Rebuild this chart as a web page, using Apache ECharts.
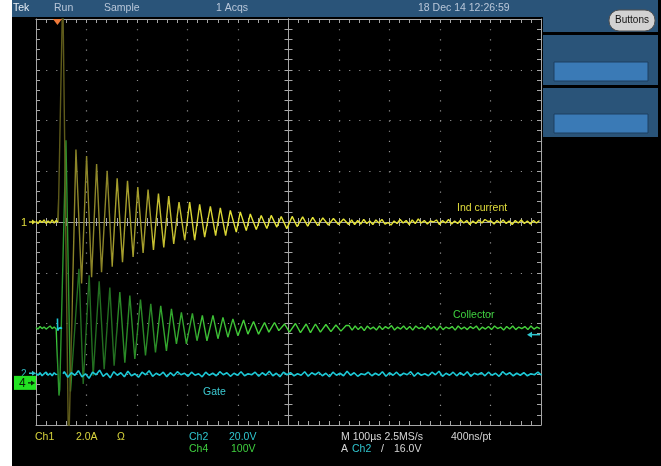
<!DOCTYPE html>
<html><head><meta charset="utf-8">
<script src="https://cdn.jsdelivr.net/npm/echarts@6/dist/echarts.min.js"></script>
<style>
html,body{margin:0;padding:0;background:#ffffff;overflow:hidden;}
#scr{position:absolute;left:12px;top:0;width:649px;height:466px;background:#000;}
#c{position:absolute;left:0;top:0;width:661px;height:466px;}
</style></head><body>
<div id="scr"></div>
<div id="c"></div>
<script>
// ---------- axis ranges (screen divisions) ----------
const xRange = [0, 10];       // 10 horizontal divisions (100 us/div)
const yRange = [-4, 4];       // 8 vertical divisions
const divStep = 1;

// ---------- Ch1 "Ind current" (yellow), [time div, level div] ----------
const ch1Trace = [
[0.00,0.02],[0.04,-0.03],[0.08,0.03],[0.12,-0.01],[0.16,0.04],[0.20,-0.03],[0.24,0.02],[0.28,-0.02],[0.32,0.04],[0.36,-0.02],[0.40,0.03],[0.44,-0.01],
[0.53,4.6],[0.645,-4.6],
[0.791,1.43],[0.903,-1.21],[1.002,1.30],[1.101,-1.09],[1.200,1.14],[1.298,-0.99],[1.409,1.01],[1.508,-0.88],[1.607,0.86],[1.713,-0.79],
[1.812,0.81],[1.923,-0.69],[2.016,0.69],[2.121,-0.61],[2.219,0.64],[2.326,-0.55],[2.425,0.56],[2.530,-0.50],[2.628,0.51],[2.727,-0.43],
[2.832,0.39],[2.945,-0.36],[3.043,0.39],[3.142,-0.36],[3.241,0.35],[3.340,-0.30],[3.453,0.31],[3.557,-0.27],[3.650,0.28],[3.755,-0.27],
[3.848,0.23],[3.966,-0.20],[4.045,0.20],[4.164,-0.17],[4.243,0.16],[4.362,-0.15],[4.460,0.13],[4.571,-0.13],[4.658,0.13],[4.769,-0.10],
[4.856,0.11],[4.966,-0.13],[5.073,0.11],[5.17,-0.09],[5.28,0.10],[5.38,-0.08],[5.48,0.09],[5.58,-0.07],[5.68,0.08],[5.79,-0.06],
[5.89,0.07],[5.99,-0.05],[6.09,0.06],[6.19,-0.05]
];
const ch1TailStart = 6.25;
const ch1Tail = [
0.04,-0.05,0.03,-0.04,0.05,-0.03,0.02,-0.05,0.04,-0.02,
0.05,-0.04,-0.01,-0.06,0.02,-0.03,0.05,-0.02,0.03,-0.05,
0.04,-0.03,0.06,-0.02,0.03,-0.04,0.02,0.00,0.04,-0.05,
0.03,-0.02,0.05,-0.04,0.02,-0.03,0.04,-0.02,0.03,-0.05,
0.02,-0.03,0.04,-0.02,0.05,0.01,0.02,-0.04,0.03,-0.02,
0.04,-0.03,0.02,-0.05,0.03,-0.02,0.04,-0.03,0.02,-0.04,
0.03,-0.02,0.03
];

// ---------- Ch4 "Collector" (green) ----------
const ch4Trace = [
[0.00,-2.08],[0.04,-2.11],[0.08,-2.06],[0.12,-2.10],[0.16,-2.07],[0.20,-2.11],[0.24,-2.08],[0.28,-2.05],[0.32,-2.10],[0.36,-2.07],[0.40,-2.11],[0.42,-2.09],
[0.455,-3.42],[0.47,-3.30],[0.593,1.61],[0.682,-3.34],
[0.850,-0.92],[0.935,-3.19],[1.053,-1.05],[1.132,-3.03],[1.251,-1.17],[1.350,-2.90],[1.462,-1.29],[1.547,-2.83],[1.660,-1.38],[1.759,-2.77],
[1.858,-1.45],[1.957,-2.70],[2.069,-1.53],[2.168,-2.63],[2.273,-1.61],[2.366,-2.57],[2.470,-1.65],[2.583,-2.54],[2.682,-1.71],[2.781,-2.40],
[2.879,-1.78],[2.978,-2.40],[3.097,-1.80],[3.188,-2.34],[3.294,-1.84],[3.385,-2.34],[3.504,-1.84],[3.603,-2.30],[3.702,-1.88],[3.800,-2.27],
[3.899,-1.91],[3.998,-2.24],[4.111,-1.93],[4.196,-2.21],[4.308,-1.96],[4.407,-2.21],[4.526,-1.98],[4.611,-2.17],[4.723,-1.98],[4.808,-2.14],
[4.921,-2.01],[5.020,-2.17],[5.138,-2.00],[5.237,-2.18],[5.350,-2.01],[5.435,-2.18],[5.534,-2.01],[5.632,-2.17],[5.741,-2.02],[5.840,-2.16],
[5.939,-2.03],[6.038,-2.15],[6.14,-2.04]
];
const ch4TailStart = 6.2;
const ch4Tail = [
-2.04,-2.13,-2.05,-2.12,-2.06,-2.14,-2.05,-2.11,-2.07,-2.13,
-2.05,-2.12,-2.06,-2.10,-2.04,-2.13,-2.07,-2.11,-2.05,-2.12,
-2.06,-2.13,-2.05,-2.10,-2.07,-2.12,-2.04,-2.11,-2.06,-2.13,
-2.05,-2.12,-2.07,-2.10,-2.06,-2.13,-2.05,-2.11,-2.07,-2.12,
-2.06,-2.10,-2.05,-2.13,-2.07,-2.11,-2.06,-2.12,-2.05,-2.10,
-2.07,-2.13,-2.06,-2.11,-2.05,-2.12,-2.07,-2.10,-2.06,-2.12,
-2.05,-2.11,-2.07,-2.10
];

// ---------- Ch2 "Gate" (cyan); '-' = trace edge too fast to show ----------
const ch2Trace = [
[0.00,-2.98],[0.04,-3.02],[0.08,-2.97],[0.12,-3.03],[0.16,-2.99],[0.20,-2.96],[0.24,-3.02],[0.28,-2.98],[0.32,-3.03],[0.36,-2.97],[0.40,-3.01],[0.41,-2.99],
[0.415,'-'],
[0.425,-1.90],[0.429,-2.14],[0.45,-2.10],[0.49,-2.08],[0.515,-2.10],
[0.52,'-'],
[0.535,-2.99]
];
const ch2TailStart = 0.56;
const ch2Tail = [
-2.95,-3.06,-2.97,-3.02,-2.93,-3.05,-2.99,-3.08,-2.96,-3.01,
-2.92,-3.04,-2.98,-3.07,-2.95,-3.02,-2.97,-3.05,-2.94,-3.03,
-2.99,-3.06,-2.96,-3.01,-2.93,-3.04,-2.98,-3.02,-2.96,-3.05,
-2.97,-3.03,-2.95,-3.01,-2.98,-3.04,-2.96,-3.02,-2.99,-3.05,
-2.96,-3.02,-2.98,-3.03,-2.95,-3.01,-2.97,-3.04,-2.98,-3.02,
-2.95,-3.03,-2.99,-3.01,-2.96,-3.04,-2.97,-3.02,-2.94,-3.03,
-2.98,-3.05,-2.96,-3.01,-2.97,-3.03,-2.99,-3.02,-2.95,-3.04,
-2.97,-3.01,-2.96,-3.03,-2.98,-3.05,-2.96,-3.02,-2.98,-3.03,
-2.94,-3.02,-2.97,-3.04,-2.99,-3.01,-2.96,-3.03,-2.98,-3.02,
-2.95,-3.04,-2.97,-3.02,-2.96,-3.03,-2.98,-3.01,-2.95,-3.04,
-2.97,-3.02,-2.99,-3.03,-2.96,-3.01,-2.94,-3.04,-2.98,-3.02,
-2.96,-3.03,-2.97,-3.02,-2.95,-3.04,-2.98,-3.01,-2.97,-3.03,
-2.96,-3.02,-2.98,-3.04,-2.95,-3.01,-2.97,-3.03,-2.98,-3.02,
-2.97,-3.03,-2.99,-3.01,-2.96,-3.02
];
const sampleStep = [0.06, 0.06, 0.07]; // ch1, ch4, ch2 tail sample spacing (div)

// ---------- reference markers (divisions) ----------
const triggerTime = 0.425;
const ch1Ground = 0, ch2Ground = -2.98, ch4Ground = -3.17, trigLevel = -2.22;

// ---------- texts ----------
const topTexts = [["Tek",13,"#e6edf5"],["Run",54,"#b9c7d9"],["Sample",104,"#b9c7d9"],["1 Acqs",216,"#b9c7d9"],["18 Dec 14 12:26:59",418,"#b9c7d9"]];
const bottomTexts = [
  ["Ch1",35,0,"#d8d43c"],["2.0A",76,0,"#d8d43c"],["\u03A9",117,0,"#d8d43c"],
  ["Ch2",189,0,"#2fc6cf"],["20.0V",229,0,"#2fc6cf"],
  ["Ch4",189,1,"#3fd03f"],["100V",231,1,"#3fd03f"],
  ["M 100\u00B5s 2.5MS/s",341,0,"#d6d6d6"],["400ns/pt",451,0,"#d6d6d6"],
  ["A",341,1,"#d6d6d6"],["Ch2",352,1,"#2fc6cf"],["/",381,1,"#d6d6d6"],["16.0V",394,1,"#d6d6d6"]
];
const traceLabels = [["Ind current",457,208,"#e2de3c"],["Collector",453,315,"#3fd03f"],["Gate",203,392,"#3ccad2"]];

function withTail(trace, start, step, vals){
  return trace.concat(vals.map((v,i)=>[+(start + i*step).toFixed(3), v]));
}
const ch1Data = withTail(ch1Trace, ch1TailStart, sampleStep[0], ch1Tail);
const ch4Data = withTail(ch4Trace, ch4TailStart, sampleStep[1], ch4Tail);
const ch2Data = withTail(ch2Trace, ch2TailStart, sampleStep[2], ch2Tail);

const gray = '#a6a6a6', dotGray = '#8e8e8e';
function mkAxis(range, pos, o){
  return {
    type:'value', min:range[0], max:range[1], interval:divStep, position:pos, offset:o.offset||0,
    axisLabel:{show:false}, silent:true,
    axisLine:{show:true, onZero:false, lineStyle:{color:gray, width:1}},
    axisTick:{show:true, inside:o.inside, length:o.len, lineStyle:{color:gray, width:1}},
    minorTick:{show:true, splitNumber:5, length:o.len, lineStyle:{color:gray, width:1}},
    splitLine: o.dash ? {show:true, lineStyle:{color:dotGray, width:1.2, type:o.dash}} : {show:false}
  };
}

const chart = echarts.init(document.getElementById('c'), null, {renderer:'canvas', width:661, height:466});
const F = "'Liberation Sans', Arial, sans-serif";

chart.setOption({
  animation:false,
  backgroundColor:'transparent',
  grid:{left:36, top:19, width:505, height:406, show:false},
  xAxis:[
    mkAxis(xRange,'bottom',{inside:true,len:4,dash:[1.2,8.95]}),
    mkAxis(xRange,'top',{inside:true,len:4}),
    mkAxis(xRange,'bottom',{inside:true,len:4,offset:-203}),
    mkAxis(xRange,'bottom',{inside:false,len:4,offset:-203})
  ],
  yAxis:[
    mkAxis(yRange,'left',{inside:true,len:4,dash:[1.2,8.9]}),
    mkAxis(yRange,'right',{inside:true,len:4}),
    mkAxis(yRange,'left',{inside:true,len:4,offset:-252.5}),
    mkAxis(yRange,'left',{inside:false,len:4,offset:-252.5})
  ],
  visualMap:[
    {type:'piecewise', show:false, seriesIndex:1, dimension:0, pieces:[
      {lt:0.44, color:'#e4e232'},{gte:0.44,lt:0.72,color:'#5e5a1a'},{gte:0.72,lt:1.5,color:'#8c8528'},
      {gte:1.5,lt:2.3,color:'#a59e2c'},{gte:2.3,lt:3.0,color:'#c4be30'},{gte:3.0,lt:3.8,color:'#d8d434'},{gte:3.8,color:'#e6e436'}]},
    {type:'piecewise', show:false, seriesIndex:0, dimension:0, pieces:[
      {lt:0.42, color:'#3cc83c'},{gte:0.42,lt:0.72,color:'#2c962c'},{gte:0.72,lt:1.6,color:'#226e20'},
      {gte:1.6,lt:2.4,color:'#2a8a27'},{gte:2.4,lt:3.2,color:'#33a72e'},{gte:3.2,lt:4.0,color:'#3cbe35'},{gte:4.0,color:'#44d03a'}]}
  ],
  series:[
    {type:'line', name:'Collector', data:ch4Data, symbol:'none', showSymbol:false, lineStyle:{width:1.4}, z:3, silent:true},
    {type:'line', name:'Ind current', data:ch1Data, symbol:'none', showSymbol:false, lineStyle:{width:1.4}, z:4, silent:true},
    {type:'line', name:'Gate', data:ch2Data, symbol:'none', showSymbol:false, connectNulls:false, lineStyle:{width:1.6, color:'#1cc8d6'}, itemStyle:{color:'#1cc8d6'}, z:5, silent:true}
  ]
});

function px(x, y){ return chart.convertToPixel({xAxisIndex:0, yAxisIndex:0}, [x, y]); }
const g = [];
const blue = '#2a5479';
g.push({type:'rect', shape:{x:12,y:0,width:646,height:17}, style:{fill:blue}, z:-5});
g.push({type:'rect', shape:{x:543,y:0,width:115,height:32}, style:{fill:blue}, z:-5});
g.push({type:'rect', shape:{x:543,y:35,width:115,height:50}, style:{fill:blue}, z:-5});
g.push({type:'rect', shape:{x:543,y:88,width:115,height:49}, style:{fill:blue}, z:-5});
g.push({type:'rect', shape:{x:554,y:62,width:94,height:19}, style:{fill:'#3a7ab6', stroke:'#1d3f60', lineWidth:1}, z:-4});
g.push({type:'rect', shape:{x:554,y:114,width:94,height:19}, style:{fill:'#3a7ab6', stroke:'#1d3f60', lineWidth:1}, z:-4});
g.push({type:'rect', shape:{x:609,y:10,width:46,height:21,r:10}, style:{fill:'#d2d2d2', stroke:'#505050', lineWidth:1}, z:-3});
g.push({type:'text', x:632, y:20.5, style:{text:'Buttons', fill:'#111', font:'10px '+F, textAlign:'center', textVerticalAlign:'middle', align:'center', verticalAlign:'middle'}, z:5});
topTexts.forEach(t=>g.push({type:'text', x:t[1], y:8.5, style:{text:t[0], fill:t[2], font:'10.5px '+F, textAlign:'left', textVerticalAlign:'middle', align:'left', verticalAlign:'middle'}, z:5}));
bottomTexts.forEach(t=>g.push({type:'text', x:t[1], y:t[2]?449:437.5, style:{text:t[0], fill:t[3], font:'10.5px '+F, textAlign:'left', textVerticalAlign:'middle', align:'left', verticalAlign:'middle'}, z:5}));
traceLabels.forEach(t=>g.push({type:'text', x:t[1], y:t[2], style:{text:t[0], fill:t[3], font:'10.5px '+F, textAlign:'left', textVerticalAlign:'middle', align:'left', verticalAlign:'middle'}, z:6}));

// trigger time marker
const tp = px(triggerTime, yRange[1]);
g.push({type:'polygon', shape:{points:[[tp[0]-4.5,tp[1]],[tp[0]+4.5,tp[1]],[tp[0],tp[1]+6]]}, style:{fill:'#f07a3a'}, z:8});
// ch1 ground marker
const p1 = px(xRange[0], ch1Ground);
g.push({type:'text', x:21, y:p1[1]+0.5, style:{text:'1', fill:'#e2de3c', font:'11px '+F, textAlign:'left', textVerticalAlign:'middle', align:'left', verticalAlign:'middle'}, z:6});
g.push({type:'line', shape:{x1:29,y1:p1[1],x2:33,y2:p1[1]}, style:{stroke:'#e2de3c', lineWidth:1.5}, z:6});
g.push({type:'polygon', shape:{points:[[32,p1[1]-2.5],[36,p1[1]],[32,p1[1]+2.5]]}, style:{fill:'#e2de3c'}, z:6});
// ch2 ground marker
const p2 = px(xRange[0], ch2Ground);
g.push({type:'text', x:21, y:p2[1]+1.5, style:{text:'2', fill:'#2fb8c0', font:'10px '+F, textAlign:'left', textVerticalAlign:'middle', align:'left', verticalAlign:'middle'}, z:6});
g.push({type:'line', shape:{x1:29,y1:p2[1],x2:33,y2:p2[1]}, style:{stroke:'#2fc6cf', lineWidth:1.5}, z:6});
g.push({type:'polygon', shape:{points:[[32,p2[1]-2.5],[36,p2[1]],[32,p2[1]+2.5]]}, style:{fill:'#2fc6cf'}, z:6});
// ch4 ground marker box
const p4 = px(xRange[0], ch4Ground);
g.push({type:'rect', shape:{x:14,y:p4[1]-7,width:22,height:14}, style:{fill:'#22e222'}, z:7});
g.push({type:'text', x:19, y:p4[1]+0.5, style:{text:'4', fill:'#062006', font:'12px '+F, textAlign:'left', textVerticalAlign:'middle', align:'left', verticalAlign:'middle'}, z:8});
g.push({type:'line', shape:{x1:28,y1:p4[1],x2:32,y2:p4[1]}, style:{stroke:'#062006', lineWidth:1.3}, z:8});
g.push({type:'polygon', shape:{points:[[31,p4[1]-2.5],[35,p4[1]],[31,p4[1]+2.5]]}, style:{fill:'#062006'}, z:8});
// trigger level marker (right edge)
const pt = px(xRange[1], trigLevel);
g.push({type:'line', shape:{x1:pt[0]-10,y1:pt[1],x2:pt[0]-1,y2:pt[1]}, style:{stroke:'#2fc6cf', lineWidth:1.5}, z:8});
g.push({type:'polygon', shape:{points:[[pt[0]-9,pt[1]-3],[pt[0]-14,pt[1]],[pt[0]-9,pt[1]+3]]}, style:{fill:'#2fc6cf'}, z:8});

chart.setOption({graphic:{elements:g}});
</script></body></html>
